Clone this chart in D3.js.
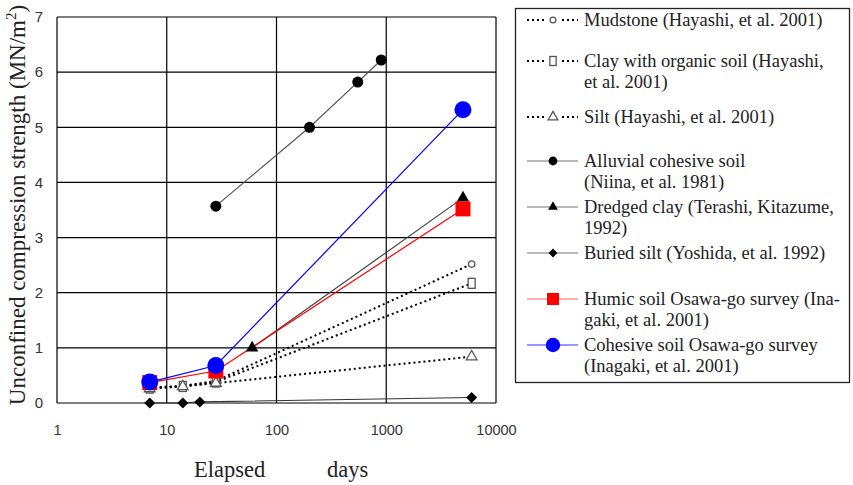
<!DOCTYPE html>
<html><head><meta charset="utf-8">
<script src="https://cdn.jsdelivr.net/npm/d3@7"></script>
<style>body{margin:0;background:#fff}svg{display:block}</style>
</head><body>
<script>
// ---- data ----
const xTickValues = [1, 10, 100, 1000, 10000];
const yTickValues = [0, 1, 2, 3, 4, 5, 6, 7];

const mudstoneDays = [7, 14, 28, 6000];
const mudstoneVals = [0.28, 0.31, 0.40, 2.52];
const clayDays = [7, 14, 28, 6000];
const clayVals = [0.27, 0.30, 0.38, 2.17];
const siltDays = [7, 14, 28, 6000];
const siltVals = [0.26, 0.30, 0.36, 0.84];
const alluvialDays = [28, 200, 550, 900];
const alluvialVals = [3.57, 5.0, 5.82, 6.22];
const dredgedDays = [60, 5000];
const dredgedVals = [1.0, 3.72];
const buriedDays = [7, 14, 20, 6000];
const buriedVals = [0.0, 0.0, 0.02, 0.1];
const humicDays = [7, 28, 5000];
const humicVals = [0.37, 0.58, 3.52];
const cohesiveDays = [7, 28, 5000];
const cohesiveVals = [0.38, 0.68, 5.32];

const legendLabels = [
  ["Mudstone (Hayashi, et al. 2001)"],
  ["Clay with organic soil (Hayashi,", "et al. 2001)"],
  ["Silt (Hayashi, et al. 2001)"],
  ["Alluvial cohesive soil", "(Niina, et al. 1981)"],
  ["Dredged clay (Terashi, Kitazume,", "1992)"],
  ["Buried silt (Yoshida, et al. 1992)"],
  ["Humic soil Osawa-go survey (Ina-", "gaki, et al. 2001)"],
  ["Cohesive soil Osawa-go survey", "(Inagaki, et al. 2001)"]
];

// ---- styles ----
const series = [
  {days: mudstoneDays, vals: mudstoneVals, line: "#000", dash: "2,3", width: 2, sym: "circle", fill: "#fff", stroke: "#555", size: 3.2},
  {days: clayDays, vals: clayVals, line: "#000", dash: "2,3", width: 2, sym: "rect", fill: "#fff", stroke: "#555", size: 0},
  {days: siltDays, vals: siltVals, line: "#000", dash: "2,3", width: 2, sym: "triangle", fill: "#fff", stroke: "#555", size: 50},
  {days: alluvialDays, vals: alluvialVals, line: "#555", dash: null, width: 1.2, sym: "circle", fill: "#000", stroke: "none", size: 5.5},
  {days: dredgedDays, vals: dredgedVals, line: "#444", dash: null, width: 1.2, sym: "triangle", fill: "#000", stroke: "none", size: 65},
  {days: buriedDays, vals: buriedVals, line: "#333", dash: null, width: 1.2, sym: "diamond", fill: "#000", stroke: "none", size: 5.5},
  {days: humicDays, vals: humicVals, line: "#ff0000", dash: null, width: 1.2, sym: "square", fill: "#ff0000", stroke: "none", size: 15},
  {days: cohesiveDays, vals: cohesiveVals, line: "#0000ff", dash: null, width: 1.2, sym: "circle", fill: "#0000ff", stroke: "none", size: 8.5}
];

const SERIF = "Liberation Serif, Times New Roman, serif";
const SANS = "Liberation Sans, Arial, sans-serif";
const W = 853, H = 485;
const svg = d3.select("body").append("svg").attr("width", W).attr("height", H);
const x = d3.scaleLog().domain([1, 10000]).range([57, 496]);
const y = d3.scaleLinear().domain([0, 7]).range([403, 17]);

// grid
const g = svg.append("g");
g.selectAll("line.gy").data(yTickValues).enter().append("line")
  .attr("x1", x(1)).attr("x2", x(10000)).attr("y1", d => y(d)).attr("y2", d => y(d))
  .attr("stroke", "#000").attr("stroke-width", 1.2);
g.selectAll("line.gx").data(xTickValues).enter().append("line")
  .attr("x1", d => x(d)).attr("x2", d => x(d)).attr("y1", y(0)).attr("y2", y(7))
  .attr("stroke", "#000").attr("stroke-width", 1.2);

// axes tick labels via d3 axes
const xAxis = d3.axisBottom(x).tickValues(xTickValues).tickFormat(d3.format("d")).tickSize(0).tickPadding(22);
svg.append("g").attr("transform", `translate(0,${y(0)})`).call(xAxis)
  .call(a => a.select(".domain").remove())
  .selectAll("text").attr("font-family", SANS).attr("font-size", 14.5).attr("fill", "#333");
const yAxis = d3.axisLeft(y).tickValues(yTickValues).tickFormat(d3.format("d")).tickSize(0).tickPadding(14);
svg.append("g").attr("transform", `translate(${x(1)},0)`).call(yAxis)
  .call(a => a.select(".domain").remove())
  .selectAll("text").attr("font-family", SANS).attr("font-size", 15).attr("fill", "#333");

// axis titles
const yt = svg.append("text").attr("transform", "translate(25,205) rotate(-90)")
  .attr("text-anchor", "middle").attr("font-family", SERIF)
  .attr("font-size", 23).attr("fill", "#222");
yt.append("tspan").text("Unconfined compression strength (MN/m");
yt.append("tspan").attr("font-size", 15).attr("dy", -9).text("2");
yt.append("tspan").attr("dy", 9).text(")");
svg.append("text").attr("x", 194).attr("y", 477).attr("font-family", SERIF)
  .attr("font-size", 22.5).attr("fill", "#222").text("Elapsed");
svg.append("text").attr("x", 327).attr("y", 477).attr("font-family", SERIF)
  .attr("font-size", 22.5).attr("fill", "#222").text("days");

// marker drawer
function drawMarker(sel, s, cx, cy, scale) {
  scale = scale || 1;
  if (s.sym === "circle") {
    sel.append("circle").attr("cx", cx).attr("cy", cy).attr("r", s.size * scale)
      .attr("fill", s.fill).attr("stroke", s.stroke).attr("stroke-width", 1.3);
  } else if (s.sym === "rect") {
    sel.append("rect").attr("x", cx - 3.5 * scale).attr("y", cy - 5 * scale).attr("width", 7 * scale).attr("height", 10 * scale)
      .attr("fill", s.fill).attr("stroke", s.stroke).attr("stroke-width", 1.3);
  } else if (s.sym === "square") {
    sel.append("rect").attr("x", cx - s.size / 2 * scale).attr("y", cy - s.size / 2 * scale)
      .attr("width", s.size * scale).attr("height", s.size * scale).attr("fill", s.fill);
  } else if (s.sym === "diamond") {
    const r = s.size * scale;
    sel.append("path").attr("d", `M${cx},${cy - r}L${cx + r},${cy}L${cx},${cy + r}L${cx - r},${cy}Z`)
      .attr("fill", s.fill);
  } else {
    sel.append("path").attr("d", d3.symbol().type(d3.symbolTriangle).size(s.size * scale * scale)())
      .attr("transform", `translate(${cx},${cy})`)
      .attr("fill", s.fill).attr("stroke", s.stroke).attr("stroke-width", 1.3);
  }
}

const line = d3.line().x(d => x(d[0])).y(d => y(d[1]));
const plot = svg.append("g");
series.forEach(s => {
  const pts = s.days.map((d, i) => [d, s.vals[i]]);
  plot.append("path").attr("d", line(pts)).attr("fill", "none")
    .attr("stroke", s.line).attr("stroke-width", s.width)
    .attr("stroke-dasharray", s.dash);
});
series.forEach(s => {
  const mg = plot.append("g");
  s.days.forEach((d, i) => drawMarker(mg, s, x(d), y(s.vals[i])));
});

// legend
svg.append("rect").attr("x", 515.5).attr("y", 8.5).attr("width", 334).attr("height", 374)
  .attr("fill", "none").attr("stroke", "#222").attr("stroke-width", 1.3);
const legendY = [20, 61, 117, 161, 207, 253, 299, 345];
const lg = svg.append("g");
series.forEach((s, i) => {
  const cy = legendY[i];
  lg.append("line").attr("x1", 527).attr("x2", 578).attr("y1", cy).attr("y2", cy)
    .attr("stroke", s.dash ? "#000" : (s.line === "#ff0000" ? "#ff6060" : s.line === "#0000ff" ? "#3030ff" : "#777"))
    .attr("stroke-width", s.dash ? 1.8 : 1.2).attr("stroke-dasharray", s.dash);
  if (s.dash) {
    lg.append("rect").attr("x", 546).attr("y", cy - 6).attr("width", 14).attr("height", 12).attr("fill", "#fff");
  }
  drawMarker(lg, s, 553, cy, s.dash ? 0.9 : (s.sym === "circle" && s.fill === "#0000ff" ? 0.85 : 0.8));
  legendLabels[i].forEach((t, j) => {
    lg.append("text").attr("x", 584).attr("y", cy + 6 + j * 20.5)
      .attr("font-family", SERIF).attr("font-size", 18.5)
      .attr("fill", "#222").text(t);
  });
});
</script>
</body></html>
